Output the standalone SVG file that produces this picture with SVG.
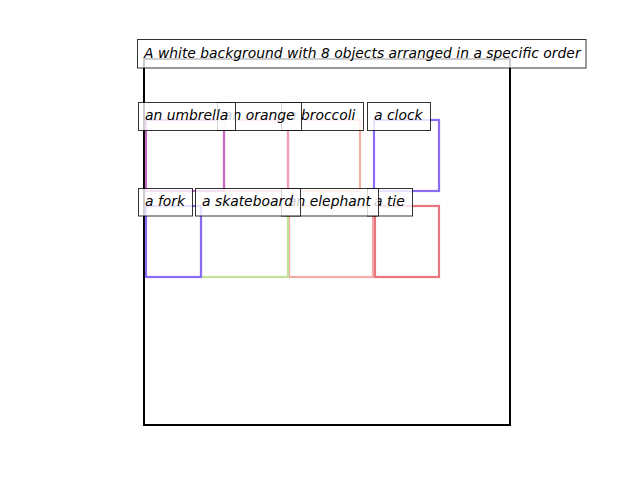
<svg xmlns="http://www.w3.org/2000/svg" width="640" height="480" viewBox="0 0 640 480">
<style>
.obj{fill:none;stroke-width:2.2}
.lbl{fill:#ffffff;fill-opacity:0.8;stroke:#000000;stroke-opacity:0.8;stroke-width:1}
.txt{font-family:"DejaVu Sans",sans-serif;font-style:oblique;font-size:13.89px;fill:#000000}
</style>
<rect x="0" y="0" width="640" height="480" fill="#ffffff"/>
<g id="frame">
<rect x="144" y="59" width="366" height="366" fill="none" stroke="#000000" stroke-width="2"/>
</g>
<g id="shapes">
<rect id="r-broccoli" class="obj" x="288" y="120" width="72" height="71" stroke="#f2b4a2"/>
<rect id="r-orange" class="obj" x="224" y="120" width="64" height="71" stroke="#f49cc2"/>
<rect id="r-umbrella" class="obj" x="146" y="120" width="78" height="71" stroke="#c66cc0"/>
<rect id="r-clock" class="obj" x="374" y="120" width="65" height="71" stroke="#8a6cf5"/>
<rect id="r-elephant" class="obj" x="289" y="206" width="84" height="71" stroke="#f7a8a8"/>
<rect id="r-skateboard" class="obj" x="201" y="206" width="87" height="71" stroke="#c4e39a"/>
<rect id="r-fork" class="obj" x="146" y="206" width="55" height="71" stroke="#8a6cf8"/>
<rect id="r-tie" class="obj" x="375" y="206" width="64" height="71" stroke="#e8767e"/>
</g>
<g id="clock"><rect class="lbl" x="367.5" y="102.5" width="63" height="28"/><text class="txt" x="374" y="120">a clock</text></g>
<g id="broccoli"><rect class="lbl" x="281.5" y="102.5" width="82" height="28"/><text class="txt" x="288" y="120">a broccoli</text></g>
<g id="orange"><rect class="lbl" x="217.5" y="102.5" width="84" height="28"/><text class="txt" x="224" y="120">an orange</text></g>
<g id="umbrella"><rect class="lbl" x="138.5" y="102.5" width="97" height="28"/><text class="txt" x="145" y="120">an umbrella</text></g>
<g id="tie"><rect class="lbl" x="367.5" y="188.5" width="45" height="27.5"/><text class="txt" x="374" y="206">a tie</text></g>
<g id="elephant"><rect class="lbl" x="281.5" y="188.5" width="97" height="27.5"/><text class="txt" x="288" y="206">an elephant</text></g>
<g id="skateboard"><rect class="lbl" x="195.5" y="188.5" width="105" height="27.5"/><text class="txt" x="202" y="206">a skateboard</text></g>
<g id="fork"><rect class="lbl" x="138.5" y="188.5" width="54" height="27.5"/><text class="txt" x="145" y="206">a fork</text></g>
<g id="title"><rect class="lbl" x="137.5" y="39.5" width="448.5" height="28.5"/><text class="txt" x="144" y="58">A white background with 8 objects arranged in a specific order</text></g>
</svg>
